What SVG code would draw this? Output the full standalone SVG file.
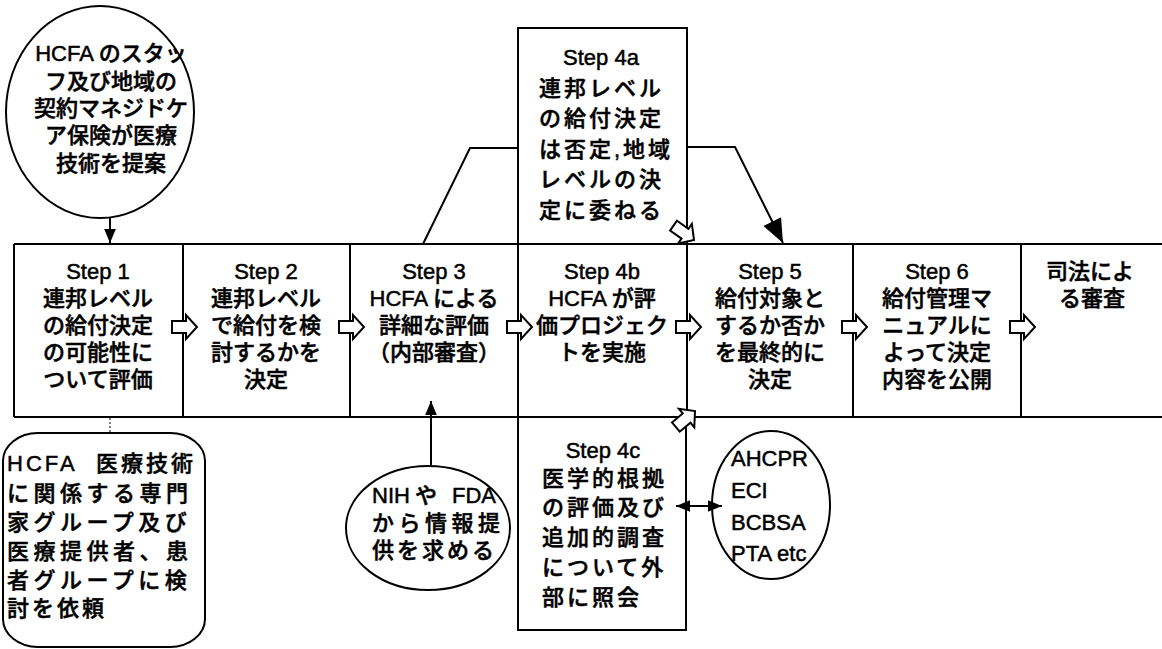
<svg xmlns="http://www.w3.org/2000/svg" width="1162" height="649" viewBox="0 0 1162 649">
<style>
.ln{fill:none;stroke:#000;stroke-width:2}
.sh{fill:#fff;stroke:#000;stroke-width:2}
text{font-family:"Liberation Sans","Noto Sans CJK JP",sans-serif;font-size:22px;font-weight:500;fill:#000;stroke:#000;stroke-width:0.5;dominant-baseline:central}
.c{text-anchor:middle}
.sp{letter-spacing:3px}
.sp4{letter-spacing:4.5px}
</style>
<defs>
<marker id="ah" markerUnits="userSpaceOnUse" markerWidth="14" markerHeight="12" refX="12" refY="5" orient="auto-start-reverse" viewBox="0 0 12 10"><path d="M0,0 L12,5 L0,10 Z" fill="#000"/></marker>
<marker id="ahL" markerUnits="userSpaceOnUse" markerWidth="24" markerHeight="20" refX="22" refY="9" orient="auto" viewBox="0 0 22 18"><path d="M0,0 L22,9 L0,18 Z" fill="#000"/></marker>
<path id="ba" d="M-25,-6 H-11 V-12 L0,0 L-11,12 V6 H-25 Z" fill="#fff" stroke="#000" stroke-width="2" stroke-linejoin="miter"/>
</defs>

<g id="row-frame">
<path class="ln" d="M14,244 H1162 M14,417 H1162 M14,244 V417 M183,244 V417 M350,244 V417 M518,244 V417 M687,244 V417 M853,244 V417 M1021,244 V417"/>
</g>

<g id="circle-hcfa">
<ellipse class="sh" cx="100" cy="112" rx="94" ry="106"/>
<text class="c" x="111" y="53">HCFA のスタッ</text>
<text class="c" x="111" y="81">フ及び地域の</text>
<text class="c" x="111" y="108">契約マネジドケ</text>
<text class="c" x="111" y="135">ア保険が医療</text>
<text class="c" x="111" y="163">技術を提案</text>
</g>

<g id="step1">
<text class="c" x="98" y="271">Step 1</text>
<text class="c" x="98" y="298">連邦レベル</text>
<text class="c" x="98" y="325">の給付決定</text>
<text class="c" x="98" y="352">の可能性に</text>
<text class="c" x="98" y="379">ついて評価</text>
</g>
<g id="step2">
<text class="c" x="266" y="271">Step 2</text>
<text class="c" x="266" y="298">連邦レベル</text>
<text class="c" x="266" y="325">で給付を検</text>
<text class="c" x="266" y="352">討するかを</text>
<text class="c" x="266" y="379">決定</text>
</g>
<g id="step3">
<text class="c" x="434" y="271">Step 3</text>
<text class="c" x="434" y="298">HCFA による</text>
<text class="c" x="434" y="325">詳細な評価</text>
<text class="c" x="434" y="352">（内部審査）</text>
</g>
<g id="step4b">
<text class="c" x="602" y="271">Step 4b</text>
<text class="c" x="602" y="298">HCFA が評</text>
<text class="c" x="602" y="325">価プロジェク</text>
<text class="c" x="602" y="352">トを実施</text>
</g>
<g id="step5">
<text class="c" x="770" y="271">Step 5</text>
<text class="c" x="770" y="298">給付対象と</text>
<text class="c" x="770" y="325">するか否か</text>
<text class="c" x="770" y="352">を最終的に</text>
<text class="c" x="770" y="379">決定</text>
</g>
<g id="step6">
<text class="c" x="937" y="271">Step 6</text>
<text class="c" x="937" y="298">給付管理マ</text>
<text class="c" x="937" y="325">ニュアルに</text>
<text class="c" x="937" y="352">よって決定</text>
<text class="c" x="937" y="379">内容を公開</text>
</g>
<g id="step7">
<text class="c" x="1090" y="271">司法によ</text>
<text class="c" x="1092" y="298">る審査</text>
</g>

<g id="step4a">
<rect class="sh" x="518" y="28" width="169" height="216"/>
<text class="c" x="601" y="57">Step 4a</text>
<text class="sp" x="539" y="88">連邦レベル</text>
<text class="sp" x="539" y="118">の給付決定</text>
<text class="sp" x="539" y="149">は否定,地域</text>
<text class="sp" x="539" y="179">レベルの決</text>
<text class="sp" x="539" y="210">定に委ねる</text>
</g>

<g id="step4c">
<rect class="sh" x="518" y="417" width="168" height="213"/>
<text class="c" x="603" y="450">Step 4c</text>
<text class="sp" x="542" y="478">医学的根拠</text>
<text class="sp" x="542" y="507">の評価及び</text>
<text class="sp" x="542" y="537">追加的調査</text>
<text class="sp" x="542" y="567">について外</text>
<text class="sp" x="542" y="597">部に照会</text>
</g>

<g id="experts">
<rect class="sh" x="3" y="433" width="202" height="214" rx="35" ry="28"/>
<text x="7" y="463" style="letter-spacing:3px">HCFA<tspan x="96" class="sp">医療技術</tspan></text>
<text class="sp4" x="7" y="493">に関係する専門</text>
<text class="sp4" x="7" y="522">家グループ及び</text>
<text class="sp4" x="7" y="551">医療提供者、患</text>
<text class="sp4" x="7" y="580">者グループに検</text>
<text class="sp" x="7" y="608">討を依頼</text>
</g>

<g id="nih">
<ellipse class="sh" cx="428" cy="528" rx="82" ry="62"/>
<text x="372" y="495">NIH <tspan x="415">や</tspan><tspan x="452">FDA</tspan></text>
<text class="sp4" x="372" y="523">から情報提</text>
<text class="sp" x="372" y="550">供を求める</text>
</g>

<g id="agencies">
<ellipse class="sh" cx="771" cy="505" rx="59" ry="74"/>
<text x="731" y="458">AHCPR</text>
<text x="731" y="490">ECI</text>
<text x="731" y="522">BCBSA</text>
<text x="731" y="553">PTA etc</text>
</g>

<g id="connectors">
<line class="ln" x1="110" y1="218" x2="110" y2="243" marker-end="url(#ah)"/>
<line x1="110" y1="418" x2="110" y2="433" stroke="#000" stroke-width="1" stroke-dasharray="2,2"/>
<line class="ln" x1="431" y1="466" x2="431" y2="401" marker-end="url(#ah)"/>
<line class="ln" x1="676" y1="506" x2="722" y2="506" marker-start="url(#ah)" marker-end="url(#ah)"/>
<polyline class="ln" points="423,244 470,148 518,148"/>
<polyline class="ln" points="687,147 735,147 783,243" marker-end="url(#ahL)"/>
<use href="#ba" transform="translate(197,327)"/>
<use href="#ba" transform="translate(364,327)"/>
<use href="#ba" transform="translate(532,327)"/>
<use href="#ba" transform="translate(701,327)"/>
<use href="#ba" transform="translate(867,327)"/>
<use href="#ba" transform="translate(1035,327)"/>
<use href="#ba" transform="translate(694,240) rotate(35)"/>
<use href="#ba" transform="translate(695,411) rotate(-40)"/>
</g>
</svg>
